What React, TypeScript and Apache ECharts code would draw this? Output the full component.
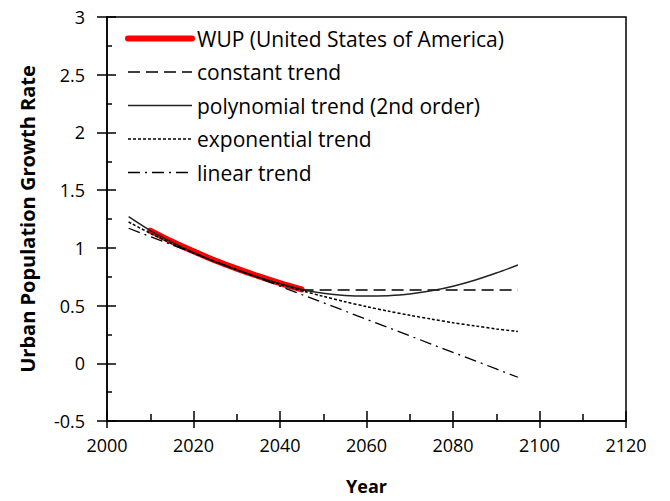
import React, { useEffect, useRef } from "react";
import * as echarts from "echarts";

const wupYears = [2010, 2015, 2020, 2025, 2030, 2035, 2040, 2045];
const wupValues = [1.15, 1.055, 0.97, 0.89, 0.82, 0.755, 0.695, 0.64];

const trendYears = [2005, 2010, 2015, 2020, 2025, 2030, 2035, 2040, 2045, 2050, 2055, 2060, 2065, 2070, 2075, 2080, 2085, 2090, 2095];
const polyValues = [1.27, 1.15, 1.05, 0.96, 0.88, 0.81, 0.745, 0.69, 0.64, 0.607, 0.588, 0.582, 0.586, 0.6, 0.628, 0.668, 0.72, 0.782, 0.852];
const expValues = [1.224, 1.126, 1.037, 0.954, 0.878, 0.808, 0.744, 0.685, 0.63, 0.58, 0.534, 0.491, 0.452, 0.416, 0.383, 0.352, 0.324, 0.298, 0.275];
const linValues = [1.17, 1.098, 1.027, 0.955, 0.883, 0.812, 0.74, 0.668, 0.596, 0.525, 0.453, 0.381, 0.31, 0.238, 0.166, 0.094, 0.023, -0.049, -0.121];

const constYears = [2045, 2050, 2055, 2060, 2065, 2070, 2075, 2080, 2085, 2090, 2095];
const constValues = [0.635, 0.635, 0.635, 0.635, 0.635, 0.635, 0.635, 0.635, 0.635, 0.635, 0.635];

const names = [
  "WUP (United States of America)",
  "constant trend",
  "polynomial trend (2nd order)",
  "exponential trend",
  "linear trend",
];

const FONT = "'Open Sans', sans-serif";

function pairs(xs: number[], ys: number[]) {
  return xs.map((x, i) => [x, ys[i]]);
}

export default function App() {
  const ref = useRef<HTMLDivElement>(null);
  useEffect(() => {
    document.body.style.margin = "0";
    const chart = echarts.init(ref.current!, undefined, { renderer: "svg" });
    const gridBox = { left: 107, right: 44, top: 17, bottom: 80 };
    const lineStyles: any[] = [
      { color: "#ff0000", width: 6, cap: "round", type: "solid" },
      { color: "#000", width: 1.5, type: [12, 6] },
      { color: "#222", width: 1.5, type: "solid" },
      { color: "#000", width: 1.5, type: [3, 2] },
      { color: "#000", width: 1.3, type: [12, 5, 2, 5] },
    ];
    const datas = [
      pairs(wupYears, wupValues),
      pairs(constYears, constValues),
      pairs(trendYears, polyValues),
      pairs(trendYears, expValues),
      pairs(trendYears, linValues),
    ];
    const option: any = {
      animation: false,
      backgroundColor: "#fff",
      grid: [
        { ...gridBox, show: true, borderColor: "#000", borderWidth: 1.5, backgroundColor: "transparent" },
        { ...gridBox },
      ],
      legend: {
        orient: "vertical",
        left: 125,
        top: 28,
        padding: 0,
        itemWidth: 64,
        itemHeight: 14,
        itemGap: 12.5,
        textStyle: { fontFamily: FONT, fontSize: 21, color: "#000" },
        data: names.map((n, i) => ({
          name: n,
          lineStyle: { ...lineStyles[i] },
          itemStyle: { color: "rgba(0,0,0,0)", borderWidth: 0, opacity: 0 },
        })),
      },
      xAxis: [
        {
          type: "value",
          gridIndex: 0,
          min: 2000,
          max: 2120,
          interval: 20,
          name: "Year",
          nameLocation: "middle",
          nameGap: 56,
          nameTextStyle: { fontFamily: FONT, fontSize: 18, fontWeight: "bold", color: "#000" },
          axisLine: { show: true, onZero: false, lineStyle: { color: "#000", width: 1.5 } },
          axisTick: { show: true, inside: false, length: 7, lineStyle: { color: "#000", width: 1.5 } },
          axisLabel: { fontFamily: FONT, fontSize: 18, color: "#000", margin: 15, formatter: (v: number) => String(v) },
          splitLine: { show: false },
        },
        {
          type: "value",
          gridIndex: 1,
          min: 2000,
          max: 2120,
          interval: 20,
          axisLine: { show: false, onZero: false },
          axisTick: { show: true, inside: true, length: 10, lineStyle: { color: "#000", width: 1.5 } },
          minorTick: { show: true, splitNumber: 2, length: 7, lineStyle: { color: "#000", width: 1.5 } },
          axisLabel: { show: false },
          splitLine: { show: false },
        },
      ],
      yAxis: [
        {
          type: "value",
          gridIndex: 0,
          min: -0.5,
          max: 3,
          interval: 0.5,
          name: "Urban Population Growth Rate",
          nameLocation: "middle",
          nameGap: 70,
          nameTextStyle: { fontFamily: FONT, fontSize: 20, fontWeight: "bold", color: "#000" },
          axisLine: { show: true, onZero: false, lineStyle: { color: "#000", width: 1.5 } },
          axisTick: { show: true, inside: false, length: 10, lineStyle: { color: "#000", width: 1.5 } },
          axisLabel: { fontFamily: FONT, fontSize: 18, color: "#000", margin: 22 },
          splitLine: { show: false },
        },
        {
          type: "value",
          gridIndex: 1,
          min: -0.5,
          max: 3,
          interval: 0.5,
          axisLine: { show: false, onZero: false },
          axisTick: { show: true, inside: true, length: 9, lineStyle: { color: "#000", width: 1.5 } },
          minorTick: { show: true, splitNumber: 2, length: 5, lineStyle: { color: "#000", width: 1.5 } },
          axisLabel: { show: false },
          splitLine: { show: false },
        },
      ],
      series: names.map((n, i) => ({
        name: n,
        type: "line",
        xAxisIndex: 0,
        yAxisIndex: 0,
        data: datas[i],
        symbol: "none",
        smooth: i === 0 || i === 2 || i === 3 ? 0.3 : false,
        lineStyle: lineStyles[i],
        itemStyle: { color: lineStyles[i].color },
        z: i === 0 ? 2 : 3,
      })),
    };
    chart.setOption(option);
    return () => chart.dispose();
  }, []);
  return <div ref={ref} style={{ width: 670, height: 501 }} />;
}
